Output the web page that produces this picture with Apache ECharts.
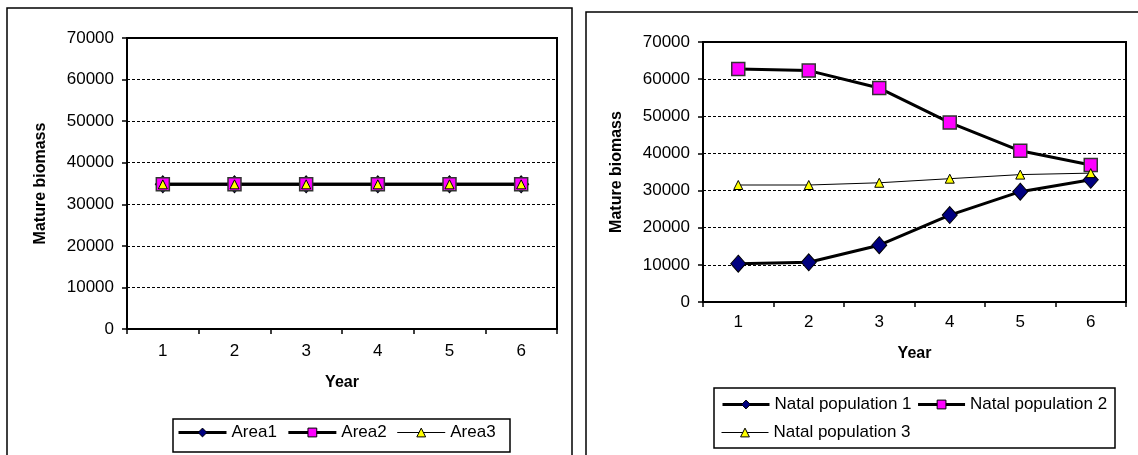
<!DOCTYPE html>
<html>
<head>
<meta charset="utf-8">
<title>Mature biomass by year</title>
<script src="https://cdn.jsdelivr.net/npm/echarts@6/dist/echarts.min.js"></script>
<style>
  html, body { margin: 0; padding: 0; background: #fff; }
  #chart { width: 1138px; height: 455px; }
</style>
</head>
<body>
<div id="chart"></div>
<script>
// Year categories shared by both panels
const years = ['1', '2', '3', '4', '5', '6'];

// Left panel: mature biomass by area
const area1 = [34800, 34800, 34800, 34800, 34800, 34800];
const area2 = [34800, 34800, 34800, 34800, 34800, 34800];
const area3 = [34800, 34800, 34800, 34800, 34800, 34800];

// Right panel: mature biomass by natal population
const natal1 = [10300, 10700, 15300, 23400, 29700, 32900];
const natal2 = [62700, 62300, 57600, 48300, 40700, 36900];
const natal3 = [31500, 31500, 32100, 33200, 34300, 34700];

const FONT = '"Liberation Sans", Arial, sans-serif';

const diamondStyle = { symbol: 'diamond', symbolSize: [15, 17], itemStyle: { color: '#000080', borderColor: '#000', borderWidth: 1 }, lineStyle: { color: '#000', width: 3 } };
const squareStyle  = { symbol: 'rect', symbolSize: 13, itemStyle: { color: '#FF00FF', borderColor: '#333', borderWidth: 1.5 }, lineStyle: { color: '#000', width: 3 } };
const triStyle     = { symbol: 'triangle', symbolSize: 9, itemStyle: { color: '#FFFF00', borderColor: '#000', borderWidth: 1 }, lineStyle: { color: '#000', width: 1 } };

function xAxisFor(gridIndex, labelMargin, nameGap) {
  return {
    type: 'category', gridIndex, data: years, boundaryGap: true,
    name: 'Year', nameLocation: 'middle', nameGap,
    nameTextStyle: { fontFamily: FONT, fontSize: 16, fontWeight: 'bold', color: '#000' },
    axisLine: { lineStyle: { color: '#000', width: 2 } },
    axisTick: { show: true, interval: 0, length: 5, lineStyle: { color: '#000', width: 1.5 } },
    axisLabel: { fontFamily: FONT, fontSize: 17, color: '#000', margin: labelMargin },
    splitLine: { show: false }
  };
}

function yAxisFor(gridIndex, nameGap) {
  return {
    type: 'value', gridIndex, min: 0, max: 70000, interval: 10000,
    name: 'Mature biomass', nameLocation: 'middle', nameGap,
    nameTextStyle: { fontFamily: FONT, fontSize: 16, fontWeight: 'bold', color: '#000' },
    axisLine: { show: true, lineStyle: { color: '#000', width: 2 } },
    axisTick: { show: true, length: 5, lineStyle: { color: '#000', width: 1.5 } },
    axisLabel: { fontFamily: FONT, fontSize: 17, color: '#000', margin: 13, formatter: v => String(v) },
    splitLine: { show: true, lineStyle: { color: '#000', width: 1, type: [3, 2] } }
  };
}

function lineSeries(name, data, style, idx) {
  return Object.assign({ type: 'line', name, data, xAxisIndex: idx, yAxisIndex: idx, animation: false }, JSON.parse(JSON.stringify(style)));
}

// Legend entries carry the same line weight as their series
function legendItem(name, style) {
  return { name, lineStyle: { color: '#000', width: style.lineStyle.width }, itemStyle: { borderWidth: 1, borderColor: '#000' } };
}

const legendText = { fontFamily: FONT, fontSize: 17, color: '#000' };

const option = {
  animation: false,
  backgroundColor: '#fff',
  grid: [
    { left: 127, top: 38, width: 430, height: 291, show: true, borderColor: '#000', borderWidth: 2, backgroundColor: 'transparent' },
    { left: 703, top: 42, width: 423, height: 260, show: true, borderColor: '#000', borderWidth: 2, backgroundColor: 'transparent' }
  ],
  xAxis: [ xAxisFor(0, 14, 46), xAxisFor(1, 12, 44) ],
  yAxis: [ yAxisFor(0, 78), yAxisFor(1, 78) ],
  legend: [
    { data: [legendItem('Area1', diamondStyle), legendItem('Area2', squareStyle), legendItem('Area3', triStyle)],
      left: 177, top: 424, itemWidth: 48, itemHeight: 11, itemGap: 10, textStyle: legendText, padding: 0 },
    { data: [legendItem('Natal population 1', diamondStyle), legendItem('Natal population 2', squareStyle)],
      left: 721, top: 396, itemWidth: 47, itemHeight: 11, itemGap: 5, textStyle: legendText, padding: 0 },
    { data: [legendItem('Natal population 3', triStyle)],
      left: 721, top: 424, itemWidth: 47, itemHeight: 11, itemGap: 5, textStyle: legendText, padding: 0 }
  ],
  graphic: [
    { type: 'rect', shape: { x: 7, y: 8, width: 565, height: 470 }, style: { fill: 'none', stroke: '#000', lineWidth: 1.5 }, silent: true },
    { type: 'rect', shape: { x: 586, y: 12, width: 560, height: 470 }, style: { fill: 'none', stroke: '#000', lineWidth: 1.5 }, silent: true },
    { type: 'rect', shape: { x: 173, y: 419, width: 337, height: 33 }, style: { fill: 'none', stroke: '#000', lineWidth: 1.5 }, silent: true },
    { type: 'rect', shape: { x: 714, y: 388, width: 401, height: 60 }, style: { fill: 'none', stroke: '#000', lineWidth: 1.5 }, silent: true }
  ],
  series: [
    lineSeries('Area1', area1, diamondStyle, 0),
    lineSeries('Area2', area2, squareStyle, 0),
    lineSeries('Area3', area3, triStyle, 0),
    lineSeries('Natal population 1', natal1, diamondStyle, 1),
    lineSeries('Natal population 2', natal2, squareStyle, 1),
    lineSeries('Natal population 3', natal3, triStyle, 1)
  ]
};

const chart = echarts.init(document.getElementById('chart'), null, { renderer: 'canvas' });
chart.setOption(option);
</script>
</body>
</html>
